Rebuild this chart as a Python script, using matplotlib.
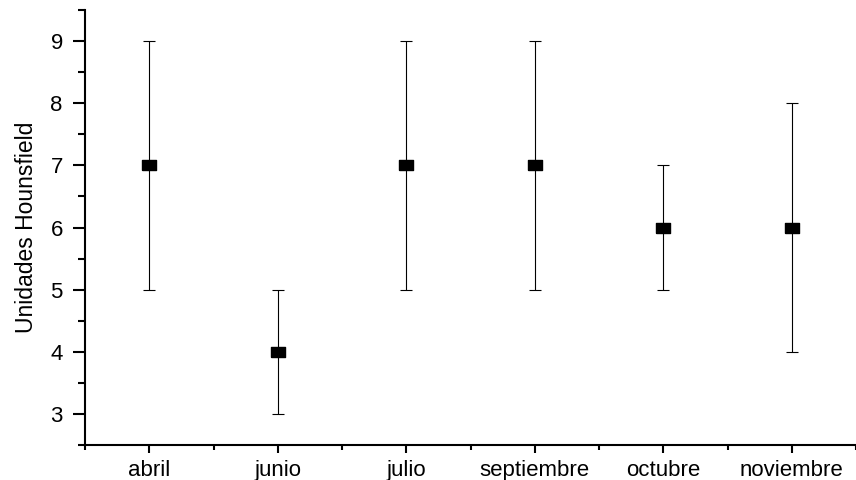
import numpy as np
import matplotlib.pyplot as plt
from matplotlib.ticker import MultipleLocator

months = ["abril", "junio", "julio", "septiembre", "octubre", "noviembre"]
means = [7, 4, 7, 7, 6, 6]
lows = [5, 3, 5, 5, 5, 4]
highs = [9, 5, 9, 9, 7, 8]

plt.rcParams['font.family'] = ['Liberation Sans', 'DejaVu Sans']

x = np.arange(1, len(months) + 1)
means_arr = np.array(means)
yerr = [means_arr - np.array(lows), np.array(highs) - means_arr]

fig = plt.figure(figsize=(8.56, 4.8), dpi=100)
ax = fig.add_axes([0.0993, 0.073, 0.9007, 0.906])

# rectangular marker, a bit wider than tall
rect = [(-1, -0.7), (1, -0.7), (1, 0.7), (-1, 0.7), (-1, -0.7)]
ax.errorbar(x, means, yerr=yerr, fmt='none', ecolor='black', elinewidth=0.8,
            capsize=4.5, capthick=0.8)
ax.plot(x, means, linestyle='none', marker=rect, markersize=9.5,
        color='black', zorder=3)

ax.set_xlim(0.5, 6.5)
ax.set_ylim(2.5, 9.5)
ax.set_xticks(x)
ax.set_xticklabels(months)
ax.set_xticks(np.arange(0.5, 7, 1), minor=True)
ax.yaxis.set_major_locator(MultipleLocator(1))
ax.yaxis.set_minor_locator(MultipleLocator(0.5))

for side in ['top', 'right']:
    ax.spines[side].set_visible(False)
for side in ['left', 'bottom']:
    ax.spines[side].set_linewidth(1.5)

ax.tick_params(axis='y', which='major', length=9, width=1.5, labelsize=16, pad=7)
ax.tick_params(axis='y', which='minor', length=5, width=1.5)
ax.tick_params(axis='x', which='major', length=6, width=1.5, labelsize=16, pad=5)
ax.tick_params(axis='x', which='minor', length=3.5, width=1.5)

ax.set_ylabel("Unidades Hounsfield", fontsize=16.5, labelpad=9)

fig.savefig("out.png", dpi=100)
